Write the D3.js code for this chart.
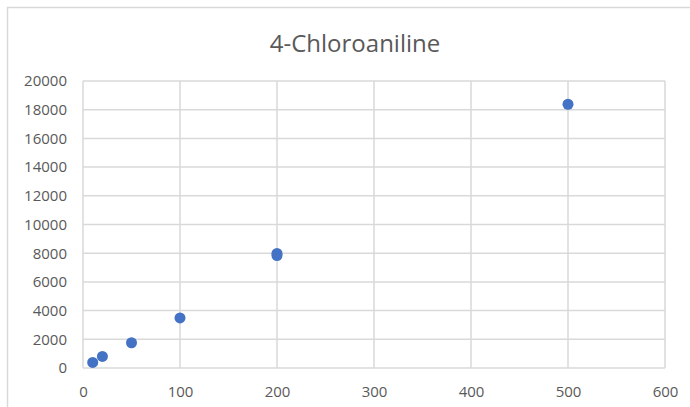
<!DOCTYPE html>
<html>
<head>
<meta charset="utf-8">
<script src="https://cdn.jsdelivr.net/npm/d3@7"></script>
<style>
	body { margin: 0; background: #fff; }
	svg { display: block; font-family: 'Open Sans', 'Liberation Sans', sans-serif; }
	.vis__grid line { stroke: #d9d9d9; stroke-width: 1.5; }
</style>
</head>
<body>
<svg width="690" height="407"></svg>
<script>
var chartTitle = '4-Chloroaniline';
var xValues = [10, 20, 50, 100, 200, 200, 500];
var yValues = [390, 810, 1760, 3490, 7980, 7840, 18380];
var xTicks = [0, 100, 200, 300, 400, 500, 600];
var yTicks = [0, 2000, 4000, 6000, 8000, 10000, 12000, 14000, 16000, 18000, 20000];

var params = {
	leftMargin: 83,
	topMargin: 81,
	graphWidth: 582,
	graphHeight: 287,
	pointRadius: 5.5,
	pointColor: '#4472c4',
	fontFamily: "'Open Sans', 'Liberation Sans', sans-serif"
};

var svg = d3.select('svg');

// outer chart border (runs off right and bottom edges)
svg.append('rect')
	.attr('x', 7.5).attr('y', 7.5)
	.attr('width', 700).attr('height', 420)
	.attr('fill', 'none')
	.attr('stroke', '#d9d9d9')
	.attr('stroke-width', 1.5);

svg.append('text')
	.attr('x', 355).attr('y', 52)
	.attr('text-anchor', 'middle')
	.attr('fill', '#595959')
	.style('font-size', '24px')
	.text(chartTitle);

var xScale = d3.scaleLinear().domain([0, 600]).range([0, params.graphWidth]);
var yScale = d3.scaleLinear().domain([0, 20000]).range([params.graphHeight, 0]);

var graphArea = svg.append('g')
	.attr('transform', 'translate(' + params.leftMargin + ',' + params.topMargin + ')');

var grid = graphArea.append('g').classed('vis__grid', true);
grid.selectAll('.h').data(yTicks).enter().append('line')
	.attr('x1', 0).attr('x2', params.graphWidth)
	.attr('y1', function(d) { return yScale(d); })
	.attr('y2', function(d) { return yScale(d); });
grid.selectAll('.v').data(xTicks).enter().append('line')
	.attr('y1', 0).attr('y2', params.graphHeight)
	.attr('x1', function(d) { return xScale(d); })
	.attr('x2', function(d) { return xScale(d); });

var leftAxis = graphArea.append('g')
	.call(d3.axisLeft(yScale).tickValues(yTicks).tickSize(0).tickPadding(16).tickFormat(d3.format('d')));
var bottomAxis = graphArea.append('g')
	.attr('transform', 'translate(0,' + params.graphHeight + ')')
	.call(d3.axisBottom(xScale).tickValues(xTicks).tickSize(0).tickPadding(18).tickFormat(d3.format('d')));

[leftAxis, bottomAxis].forEach(function(axis) {
	axis.select('.domain').remove();
	axis.attr('font-family', params.fontFamily).attr('font-size', 15);
	axis.selectAll('text').attr('fill', '#595959');
});

graphArea.selectAll('.point').data(xValues).enter().append('circle')
	.attr('cx', function(d) { return xScale(d); })
	.attr('cy', function(d, i) { return yScale(yValues[i]); })
	.attr('r', params.pointRadius)
	.attr('fill', params.pointColor);
</script>
</body>
</html>
